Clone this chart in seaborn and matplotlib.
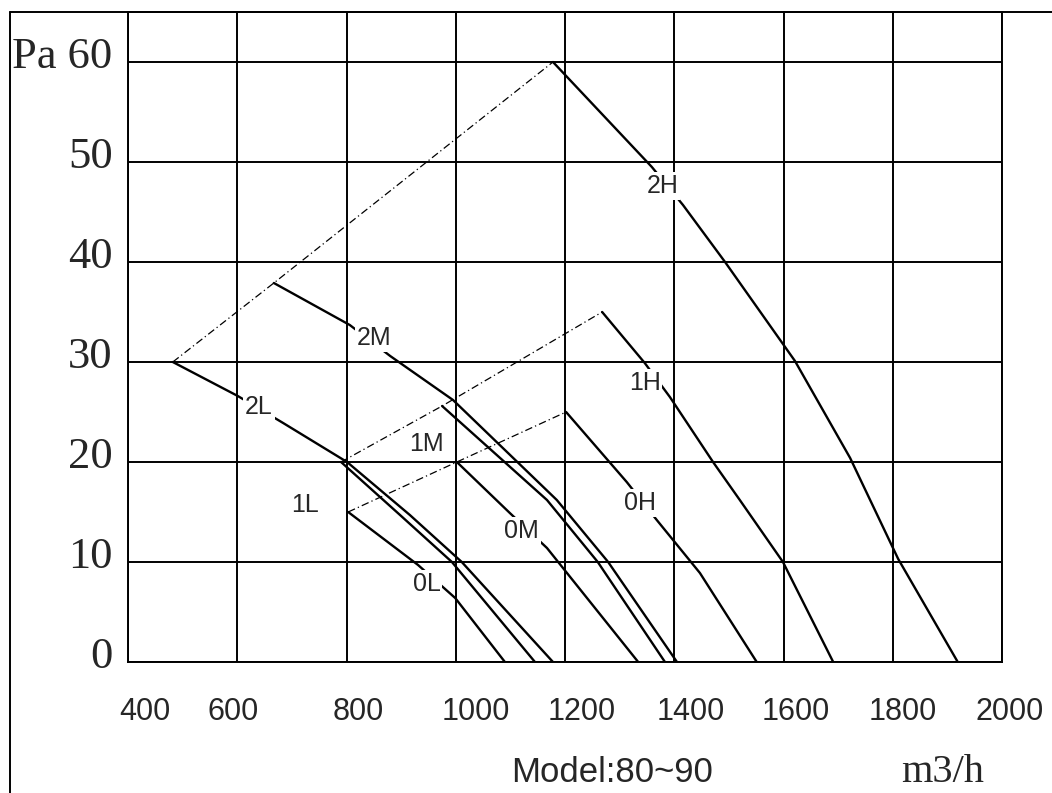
import matplotlib
matplotlib.use("agg")  # no display
import matplotlib.pyplot as plt
import matplotlib.transforms as mtransforms
from matplotlib.lines import Line2D
import pandas as pd
import seaborn as sns

# fan curves: airflow (m3/h) vs static pressure (Pa)
FLOW_0L = [803, 931, 999, 1090]
PA_0L = [15, 9.7, 6.4, 0]
FLOW_1L = [790, 898, 993, 1145]
PA_1L = [20, 14.7, 10, 0]
FLOW_2L = [482, 601, 684, 801, 916, 1011, 1178]
PA_2L = [30, 26.6, 23.9, 20, 14.7, 10, 0]

FLOW_0M = [1002, 1099, 1167, 1334]
PA_0M = [20, 14.9, 11.4, 0]
FLOW_1M = [975, 1167, 1260, 1383]
PA_1M = [25.6, 16.2, 10, 0]
FLOW_2M = [667, 806, 880, 995, 1185, 1279, 1405]
PA_2M = [37.9, 33.7, 30.6, 26.2, 16.2, 10, 0]

FLOW_0H = [1202, 1313, 1368, 1447, 1551]
PA_0H = [25, 18, 14.2, 8.9, 0]
FLOW_1H = [1268, 1346, 1392, 1471, 1520, 1599, 1691]
PA_1H = [35, 29.9, 26.5, 20, 16.2, 10, 0]
FLOW_2H = [1178, 1359, 1416, 1493, 1621, 1722, 1810, 1919]
PA_2H = [60, 49.5, 45.7, 40, 30.1, 20.4, 10.3, 0]

CURVE_NAMES = ["0L", "1L", "2L", "0M", "1M", "2M", "0H", "1H", "2H"]
X_TICKS = [400, 600, 800, 1000, 1200, 1400, 1600, 1800, 2000]
Y_TICKS = [0, 10, 20, 30, 40, 50, 60]
Y_TICK_LABELS = ["0", "10", "20", "30", "40", "50", "Pa 60"]

CURVES = {
    "0L": (FLOW_0L, PA_0L), "1L": (FLOW_1L, PA_1L), "2L": (FLOW_2L, PA_2L),
    "0M": (FLOW_0M, PA_0M), "1M": (FLOW_1M, PA_1M), "2M": (FLOW_2M, PA_2M),
    "0H": (FLOW_0H, PA_0H), "1H": (FLOW_1H, PA_1H), "2H": (FLOW_2H, PA_2H),
}

# where the curve names sit (data coords)
LABEL_POS = {
    "2H": (1378, 47.6), "1H": (1346, 27.9), "0H": (1337, 15.9),
    "2M": (850, 32.4), "1M": (947, 21.8), "0M": (1121, 13.1),
    "2L": (640, 25.5), "1L": (724, 15.7), "0L": (947, 7.8),
}
# the scanned x labels are not quite centred on the grid (pixels)
X_LABEL_SHIFT = [17, -4, 12, 20, 17, 16, 12, 10, 8]

rows = []
for name in CURVE_NAMES:
    flow, pa = CURVES[name]
    for x, y in zip(flow, pa):
        rows.append({"curve": name, "flow": x, "pa": y})
curves = pd.DataFrame(rows)

# dash-dot system lines join the first point of L, M, H for each setting
sys_rows = []
for speed in ["0", "1", "2"]:
    for level in ["L", "M", "H"]:
        flow, pa = CURVES[speed + level]
        sys_rows.append({"speed": speed, "flow": flow[0], "pa": pa[0]})
system = pd.DataFrame(sys_rows)

sns.set_theme(style="white")
plt.rcParams["font.family"] = ["Liberation Sans", "DejaVu Sans"]

W, H = 1052, 793
fig = plt.figure(figsize=(W / 100, H / 100), dpi=100)
ax = fig.add_axes([128 / W, 1 - 662 / H, (1002 - 128) / W, (662 - 12) / H])

sns.lineplot(data=curves, x="flow", y="pa", units="curve", estimator=None,
             sort=False, color="black", lw=1.7, legend=False, ax=ax, zorder=3)
sns.lineplot(data=system, x="flow", y="pa", units="speed", estimator=None,
             sort=False, color="black", lw=0.9, legend=False, ax=ax,
             dashes=False, zorder=3)
for line in ax.lines[len(CURVE_NAMES):]:
    line.set_linestyle((0, (6, 2.5, 1, 2.5)))

for name, (x, y) in LABEL_POS.items():
    ax.text(x, y, name, ha="center", va="center", fontsize=18,
            family="Liberation Sans", zorder=5,
            bbox=dict(facecolor="white", edgecolor="none", pad=1.2))

ax.set_xlim(400, 2000)
ax.set_ylim(0, 65)
ax.grid(True, color="black", lw=1.4)
for spine in ax.spines.values():
    spine.set_color("black")
    spine.set_linewidth(1.4)
ax.set_xlabel("")
ax.set_ylabel("")

ax.tick_params(axis="x", length=0, pad=25)
ax.tick_params(axis="y", length=0, pad=11)
ax.set_xticks(X_TICKS, labels=[str(v) for v in X_TICKS], fontsize=22,
              family="Liberation Sans")
ax.set_yticks(Y_TICKS, labels=Y_TICK_LABELS, fontsize=32,
              family="Liberation Serif")

for label, shift in zip(ax.get_xticklabels(), X_LABEL_SHIFT):
    off = mtransforms.ScaledTranslation(shift / 100, 0, fig.dpi_scale_trans)
    label.set_transform(label.get_transform() + off)
y_off = mtransforms.ScaledTranslation(0, 10 / 100, fig.dpi_scale_trans)
for label in ax.get_yticklabels():
    label.set_transform(label.get_transform() + y_off)

# outer frame of the scanned sheet
fig.add_artist(Line2D([10 / W, 10 / W], [0, 1 - 12 / H], color="black", lw=1.4))
fig.add_artist(Line2D([10 / W, 1], [1 - 12 / H, 1 - 12 / H], color="black", lw=1.4))

fig.text(612 / W, 1 - 773 / H, "Model:80~90", ha="center", va="center",
         fontsize=25, family="Liberation Sans")
fig.text(943 / W, 1 - 773 / H, "m3/h", ha="center", va="center",
         fontsize=29, family="Liberation Serif")

fig.savefig("out.png", dpi=100, facecolor="white")
plt.close(fig)
